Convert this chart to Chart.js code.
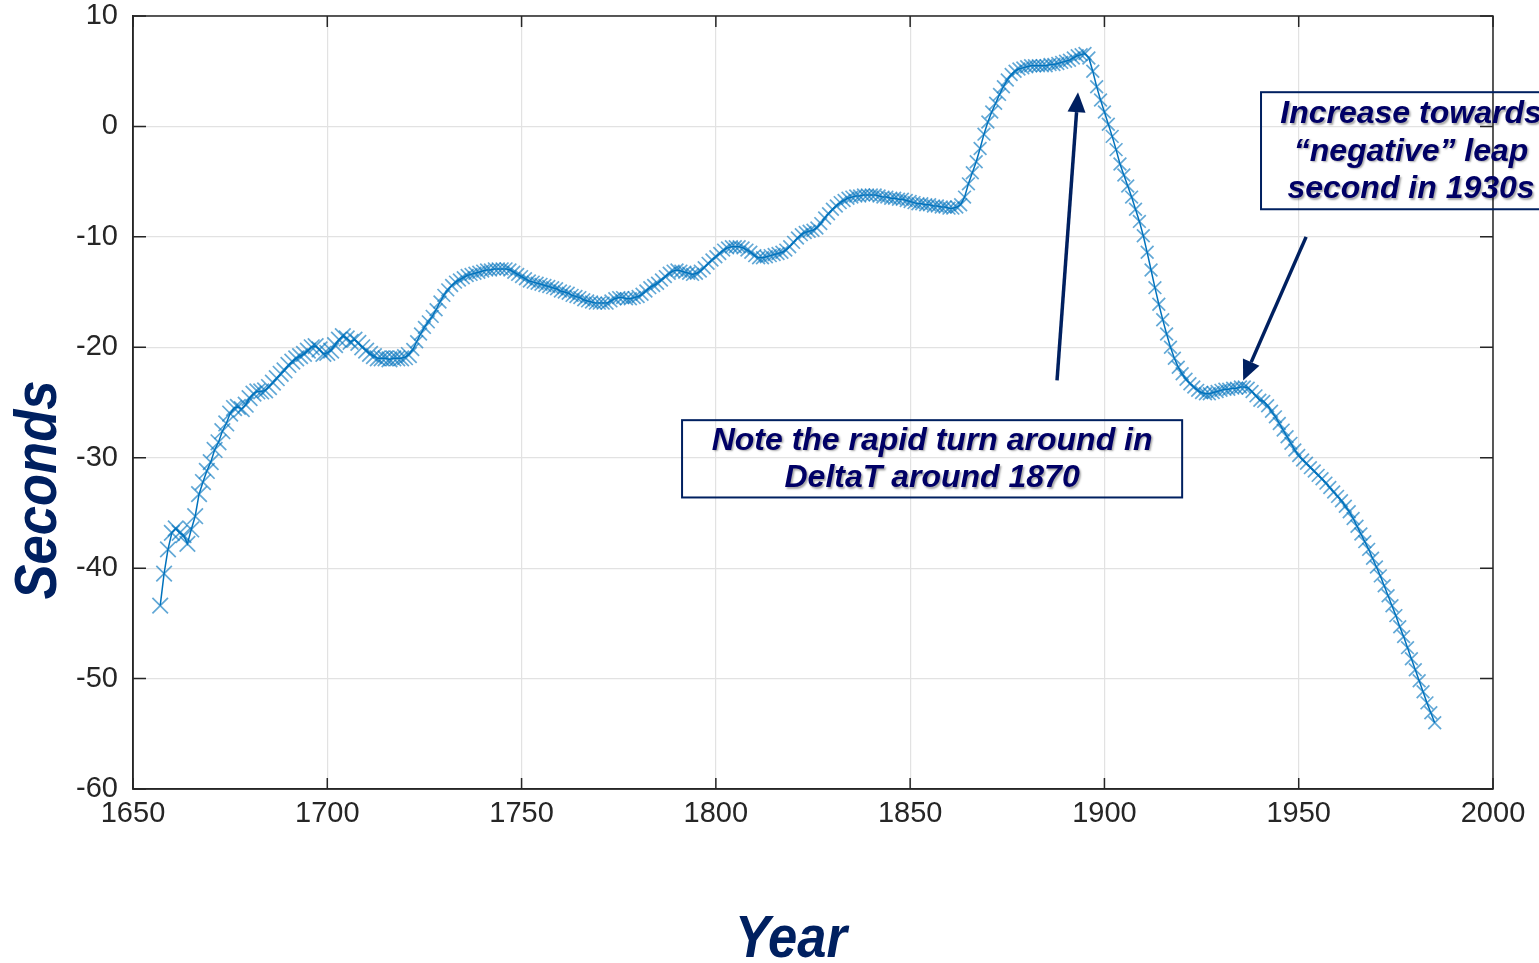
<!DOCTYPE html>
<html lang="en">
<head>
<meta charset="UTF-8">
<title>DeltaT</title>
<script src="https://cdn.jsdelivr.net/npm/chart.js"></script>
<style>
    html, body { margin: 0; padding: 0; background: #ffffff; }
    #wrap { width: 1539px; height: 963px; position: relative; }
</style>
</head>
<body>
<div id="wrap"><canvas id="graph" width="1539" height="963"></canvas></div>
<script>
// years of the series
const years = [
    1657, 1658, 1659,
    1660, 1661, 1662, 1663, 1664, 1665, 1666, 1667, 1668, 1669,
    1670, 1671, 1672, 1673, 1674, 1675, 1676, 1677, 1678, 1679,
    1680, 1681, 1682, 1683, 1684, 1685, 1686, 1687, 1688, 1689,
    1690, 1691, 1692, 1693, 1694, 1695, 1696, 1697, 1698, 1699,
    1700, 1701, 1702, 1703, 1704, 1705, 1706, 1707, 1708, 1709,
    1710, 1711, 1712, 1713, 1714, 1715, 1716, 1717, 1718, 1719,
    1720, 1721, 1722, 1723, 1724, 1725, 1726, 1727, 1728, 1729,
    1730, 1731, 1732, 1733, 1734, 1735, 1736, 1737, 1738, 1739,
    1740, 1741, 1742, 1743, 1744, 1745, 1746, 1747, 1748, 1749,
    1750, 1751, 1752, 1753, 1754, 1755, 1756, 1757, 1758, 1759,
    1760, 1761, 1762, 1763, 1764, 1765, 1766, 1767, 1768, 1769,
    1770, 1771, 1772, 1773, 1774, 1775, 1776, 1777, 1778, 1779,
    1780, 1781, 1782, 1783, 1784, 1785, 1786, 1787, 1788, 1789,
    1790, 1791, 1792, 1793, 1794, 1795, 1796, 1797, 1798, 1799,
    1800, 1801, 1802, 1803, 1804, 1805, 1806, 1807, 1808, 1809,
    1810, 1811, 1812, 1813, 1814, 1815, 1816, 1817, 1818, 1819,
    1820, 1821, 1822, 1823, 1824, 1825, 1826, 1827, 1828, 1829,
    1830, 1831, 1832, 1833, 1834, 1835, 1836, 1837, 1838, 1839,
    1840, 1841, 1842, 1843, 1844, 1845, 1846, 1847, 1848, 1849,
    1850, 1851, 1852, 1853, 1854, 1855, 1856, 1857, 1858, 1859,
    1860, 1861, 1862, 1863, 1864, 1865, 1866, 1867, 1868, 1869,
    1870, 1871, 1872, 1873, 1874, 1875, 1876, 1877, 1878, 1879,
    1880, 1881, 1882, 1883, 1884, 1885, 1886, 1887, 1888, 1889,
    1890, 1891, 1892, 1893, 1894, 1895, 1896, 1897, 1898, 1899,
    1900, 1901, 1902, 1903, 1904, 1905, 1906, 1907, 1908, 1909,
    1910, 1911, 1912, 1913, 1914, 1915, 1916, 1917, 1918, 1919,
    1920, 1921, 1922, 1923, 1924, 1925, 1926, 1927, 1928, 1929,
    1930, 1931, 1932, 1933, 1934, 1935, 1936, 1937, 1938, 1939,
    1940, 1941, 1942, 1943, 1944, 1945, 1946, 1947, 1948, 1949,
    1950, 1951, 1952, 1953, 1954, 1955, 1956, 1957, 1958, 1959,
    1960, 1961, 1962, 1963, 1964, 1965, 1966, 1967, 1968, 1969,
    1970, 1971, 1972, 1973, 1974, 1975, 1976, 1977, 1978, 1979,
    1980, 1981, 1982, 1983, 1984, 1985
];

// seconds
const seconds = [
    -43.4, -40.5, -38.3,
    -36.8, -36.4, -36.8, -37.0, -37.8, -36.5, -35.3, -33.3, -32.2, -31.2,
    -30.4, -29.3, -28.6, -27.6, -26.9, -26.0, -25.5, -25.4, -25.6, -25.2,
    -24.6, -24.2, -24.0, -24.0, -23.9, -23.6, -23.2, -22.8, -22.4, -22.1,
    -21.6, -21.3, -21.0, -20.8, -20.6, -20.3, -20.0, -19.9, -20.2, -20.6,
    -20.5, -20.3, -19.8, -19.3, -19.0, -19.2, -19.5, -19.3, -19.6, -20.0,
    -20.3, -20.6, -20.8, -21.0, -21.0, -21.0, -21.1, -21.0, -21.0, -21.0,
    -20.9, -20.7, -20.2, -19.5, -18.8, -18.2, -17.7, -17.2, -16.6, -15.9,
    -15.3, -14.8, -14.4, -14.1, -13.9, -13.7, -13.5, -13.4, -13.3, -13.2,
    -13.1, -13.0, -13.0, -12.9, -12.9, -12.9, -12.9, -13.0, -13.2, -13.4,
    -13.6, -13.8, -14.0, -14.1, -14.2, -14.3, -14.4, -14.5, -14.6, -14.7,
    -14.9, -15.0, -15.1, -15.3, -15.4, -15.5, -15.7, -15.8, -15.9, -16.0,
    -16.0, -16.0, -16.0, -15.8, -15.6, -15.5, -15.5, -15.6, -15.6, -15.5,
    -15.4, -15.2, -14.9, -14.6, -14.4, -14.2, -13.9, -13.6, -13.3, -13.1,
    -13.0, -13.1, -13.2, -13.3, -13.4, -13.3, -13.1, -12.8, -12.4, -12.1,
    -11.8, -11.5, -11.2, -11.0, -10.9, -10.9, -10.9, -11.0, -11.2, -11.4,
    -11.7, -11.9, -11.9, -11.8, -11.7, -11.6, -11.5, -11.4, -11.2, -10.9,
    -10.5, -10.1, -9.8, -9.6, -9.5, -9.4, -9.2, -8.8, -8.3, -7.9,
    -7.5, -7.2, -6.9, -6.7, -6.5, -6.4, -6.3, -6.3, -6.2, -6.2,
    -6.2, -6.2, -6.3, -6.4, -6.4, -6.5, -6.5, -6.6, -6.6, -6.7,
    -6.8, -6.9, -7.0, -7.0, -7.1, -7.1, -7.2, -7.2, -7.3, -7.3,
    -7.4, -7.4, -7.3, -7.1, -6.4, -5.2, -4.2, -3.2, -2.0, -0.7,
    0.4, 1.3, 2.1, 2.9, 3.6, 4.2, 4.7, 5.0, 5.2, 5.3,
    5.4, 5.5, 5.5, 5.5, 5.5, 5.5, 5.6, 5.6, 5.7, 5.8,
    5.9, 6.0, 6.2, 6.4, 6.5, 6.6, 6.2, 5.0, 3.6, 2.4,
    1.3, 0.2, -0.9, -2.1, -3.4, -4.4, -5.4, -6.4, -7.5, -8.6,
    -9.9, -11.4, -13.0, -14.6, -16.1, -17.5, -18.8, -20.0, -21.0, -21.8,
    -22.4, -22.9, -23.3, -23.6, -23.9, -24.1, -24.2, -24.2, -24.1, -24.0,
    -23.9, -23.8, -23.8, -23.7, -23.7, -23.6, -23.6, -23.7, -24.0, -24.4,
    -24.8, -24.9, -25.3, -25.8, -26.3, -26.9, -27.5, -28.1, -28.7, -29.3,
    -29.8, -30.2, -30.5, -30.9, -31.2, -31.6, -31.9, -32.3, -32.7, -33.1,
    -33.5, -33.9, -34.4, -34.9, -35.5, -36.2, -36.9, -37.6, -38.3, -39.1,
    -39.9, -40.7, -41.6, -42.5, -43.4, -44.3, -45.3, -46.2, -47.2, -48.2,
    -49.2, -50.2, -51.2, -52.2, -53.1, -54.0
];

// axis ticks
const xTicks = [1650, 1700, 1750, 1800, 1850, 1900, 1950, 2000];
const yTicks = [-60, -50, -40, -30, -20, -10, 0, 10];

// callouts: text lines, box corners [x1, x2, y1, y2] and arrows [tailX, tailY, tipX, tipY] in data units
const noteLines = [
    ['Note the rapid turn around in', 'DeltaT around 1870'],
    ['Increase towards', '\u201cnegative\u201d leap', 'second in 1930s']
];
const noteBoxes = [
    [1791.3, 1920.0, -26.6, -33.6],
    [1940.3, 2017.5, 3.1, -7.5]
];
const noteArrows = [
    [1887.8, -23.0, 1893.2, 3.1],
    [1951.9, -10.0, 1935.7, -23.0]
];

const FONT = "'Liberation Sans', Arial, Helvetica, sans-serif";
const NAVY = '#002060';
const INK = '#000066';

function drawArrow(ctx, x1, y1, x2, y2) {
    const ang = Math.atan2(y2 - y1, x2 - x1);
    const len = 20, half = 9;
    const bx = x2 - Math.cos(ang) * len, by = y2 - Math.sin(ang) * len;
    ctx.beginPath();
    ctx.moveTo(x1, y1);
    ctx.lineTo(bx, by);
    ctx.stroke();
    ctx.beginPath();
    ctx.moveTo(x2, y2);
    ctx.lineTo(bx - Math.sin(ang) * half, by + Math.cos(ang) * half);
    ctx.lineTo(bx + Math.sin(ang) * half, by - Math.cos(ang) * half);
    ctx.closePath();
    ctx.fill();
}

const decor = {
    id: 'decor',
    afterDatasetsDraw(chart) {
        const { ctx, chartArea: a, scales: { x, y } } = chart;
        ctx.save();
        ctx.strokeStyle = '#262626';
        ctx.lineWidth = 1.5;
        ctx.strokeRect(a.left, a.top, a.right - a.left, a.bottom - a.top);
        ctx.beginPath();
        xTicks.forEach(v => {
            const px = x.getPixelForValue(v);
            ctx.moveTo(px, a.bottom); ctx.lineTo(px, a.bottom - 11);
            ctx.moveTo(px, a.top); ctx.lineTo(px, a.top + 11);
        });
        yTicks.forEach(v => {
            const py = y.getPixelForValue(v);
            ctx.moveTo(a.left, py); ctx.lineTo(a.left + 13, py);
            ctx.moveTo(a.right, py); ctx.lineTo(a.right - 13, py);
        });
        ctx.stroke();
        ctx.restore();
    },
    afterDraw(chart) {
        const { ctx, scales: { x, y } } = chart;
        ctx.save();

        // axis titles
        ctx.fillStyle = NAVY;
        ctx.font = 'italic bold 59px ' + FONT;
        ctx.textAlign = 'center';
        ctx.textBaseline = 'alphabetic';
        ctx.save();
        ctx.translate(56, 490);
        ctx.rotate(-Math.PI / 2);
        ctx.scale(0.89, 1);
        ctx.fillText('Seconds', 0, 0);
        ctx.restore();
        ctx.save();
        ctx.translate(791, 957);
        ctx.scale(0.89, 1);
        ctx.fillText('Year', 0, 0);
        ctx.restore();

        // callout arrows
        ctx.strokeStyle = NAVY;
        ctx.fillStyle = NAVY;
        ctx.lineWidth = 3.5;
        noteArrows.forEach(r => {
            drawArrow(ctx, x.getPixelForValue(r[0]), y.getPixelForValue(r[1]),
                x.getPixelForValue(r[2]), y.getPixelForValue(r[3]));
        });

        // callout boxes
        noteBoxes.forEach((b, i) => {
            const x1 = x.getPixelForValue(b[0]), x2 = x.getPixelForValue(b[1]);
            const y1 = y.getPixelForValue(b[2]), y2 = y.getPixelForValue(b[3]);
            ctx.strokeStyle = NAVY;
            ctx.lineWidth = 2;
            ctx.strokeRect(x1, y1, x2 - x1, y2 - y1);
            const lines = noteLines[i];
            const step = 37.5;
            const cx = (x1 + x2) / 2, cy = (y1 + y2) / 2 + 1;
            ctx.save();
            ctx.font = 'italic bold 32px ' + FONT;
            ctx.textAlign = 'center';
            ctx.textBaseline = 'middle';
            ctx.fillStyle = INK;
            ctx.shadowColor = 'rgba(0,0,0,0.35)';
            ctx.shadowBlur = 2;
            ctx.shadowOffsetX = 1.5;
            ctx.shadowOffsetY = 1.5;
            lines.forEach((t, k) => {
                ctx.fillText(t, cx, cy + (k - (lines.length - 1) / 2) * step);
            });
            ctx.restore();
        });
        ctx.restore();
    }
};

new Chart(document.getElementById('graph').getContext('2d'), {
    type: 'line',
    data: {
        datasets: [{
            data: years.map((yr, i) => ({ x: yr, y: seconds[i] })),
            borderColor: '#0072BD',
            borderWidth: 1.5,
            pointStyle: 'crossRot',
            pointRadius: c => (years[c.dataIndex] < 1722 ? 11 : 9),
            pointBorderWidth: 1.7,
            pointBorderColor: 'rgba(0,114,189,0.62)',
            pointBackgroundColor: 'rgba(0,0,0,0)',
            tension: 0
        }]
    },
    options: {
        responsive: false,
        animation: false,
        events: [],
        layout: { padding: { top: 0, right: 46, left: 0, bottom: 0 } },
        plugins: { legend: { display: false }, tooltip: { enabled: false } },
        scales: {
            x: {
                type: 'linear',
                min: 1650,
                max: 2000,
                afterFit(s) { s.height = 174; },
                afterBuildTicks(s) { s.ticks = xTicks.map(v => ({ value: v })); },
                ticks: {
                    color: '#262626',
                    padding: 8,
                    maxRotation: 0,
                    font: { family: FONT, size: 29 },
                    callback: v => String(v)
                },
                grid: { color: '#e2e2e2', lineWidth: 1.2, drawTicks: false },
                border: { color: '#262626', width: 1.5 }
            },
            y: {
                min: -60,
                max: 10,
                afterFit(s) { s.width = 133; s.paddingTop = 16; s.paddingBottom = 0; },
                afterBuildTicks(s) { s.ticks = yTicks.map(v => ({ value: v })); },
                ticks: {
                    color: '#262626',
                    padding: 15,
                    font: { family: FONT, size: 29 },
                    callback: v => String(v)
                },
                grid: { color: '#e2e2e2', lineWidth: 1.2, drawTicks: false },
                border: { color: '#262626', width: 1.5 }
            }
        }
    },
    plugins: [decor]
});
</script>
</body>
</html>
